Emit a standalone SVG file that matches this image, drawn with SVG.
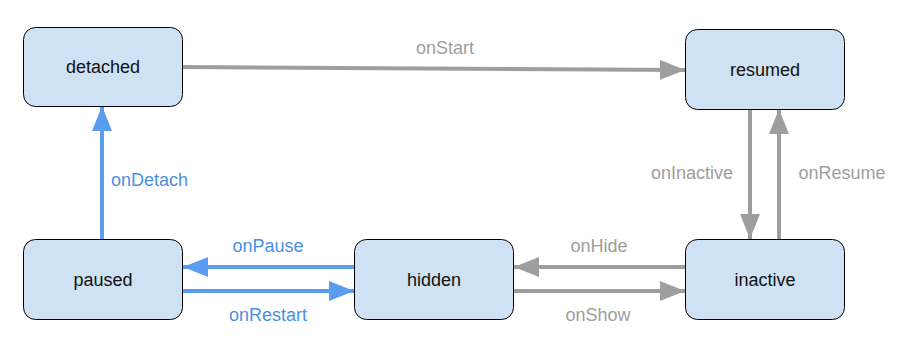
<svg xmlns="http://www.w3.org/2000/svg" width="920" height="361" viewBox="0 0 920 361">
<style>
.node rect{fill:#cfe2f3;stroke:#000;stroke-width:1}
.node text{font-family:"Liberation Sans",Arial,sans-serif;font-size:18px;font-weight:normal;fill:#111;text-anchor:middle}
.g{stroke:#9e9e9e;stroke-width:4;fill:none}
.b{stroke:#5a9cf0;stroke-width:4;fill:none}
.lg{font-family:"Liberation Sans",Arial,sans-serif;font-size:18px;font-weight:normal;fill:#9e9e9e}
.lb{font-family:"Liberation Sans",Arial,sans-serif;font-size:18px;font-weight:normal;fill:#4a8fe6}
</style>
<defs>
<marker id="ag" markerUnits="userSpaceOnUse" viewBox="0 0 25 20" refX="25" refY="10" markerWidth="25" markerHeight="20" orient="auto"><path d="M0,0 L25,10 L0,20 Z" fill="#9e9e9e"/></marker>
<marker id="ab" markerUnits="userSpaceOnUse" viewBox="0 0 25 20" refX="25" refY="10" markerWidth="25" markerHeight="20" orient="auto"><path d="M0,0 L25,10 L0,20 Z" fill="#5a9cf0"/></marker>
</defs>
<rect width="920" height="361" fill="#fff"/>
<g id="connectors">
<path class="g" d="M183,67 L685,70" marker-end="url(#ag)"/>
<path class="g" d="M750,109 L750,239" marker-end="url(#ag)"/>
<path class="g" d="M779,239 L779,109" marker-end="url(#ag)"/>
<path class="g" d="M685,267 L514,267" marker-end="url(#ag)"/>
<path class="g" d="M514,291 L685,291" marker-end="url(#ag)"/>
<path class="b" d="M354,267 L183,267" marker-end="url(#ab)"/>
<path class="b" d="M183,291 L354,291" marker-end="url(#ab)"/>
<path class="b" d="M102,239 L102,106" marker-end="url(#ab)"/>
<text class="lg" x="445" y="54" text-anchor="middle">onStart</text>
<text class="lg" x="692" y="179" text-anchor="middle">onInactive</text>
<text class="lg" x="842" y="179" text-anchor="middle">onResume</text>
<text class="lg" x="599" y="252" text-anchor="middle">onHide</text>
<text class="lg" x="598" y="321" text-anchor="middle">onShow</text>
<text class="lb" x="268" y="252" text-anchor="middle">onPause</text>
<text class="lb" x="268" y="321" text-anchor="middle">onRestart</text>
<text class="lb" x="111" y="186">onDetach</text>
</g>
<g id="detached" class="node"><rect x="23.5" y="27.5" width="159" height="79" rx="12"/><text x="103" y="73">detached</text></g>
<g id="resumed" class="node"><rect x="685.5" y="29.5" width="159" height="80" rx="12"/><text x="765" y="76">resumed</text></g>
<g id="paused" class="node"><rect x="23.5" y="239.5" width="159" height="80" rx="12"/><text x="103" y="286">paused</text></g>
<g id="hidden" class="node"><rect x="354.5" y="239.5" width="159" height="80" rx="12"/><text x="434" y="286">hidden</text></g>
<g id="inactive" class="node"><rect x="685.5" y="239.5" width="159" height="80" rx="12"/><text x="765" y="286">inactive</text></g>
</svg>
